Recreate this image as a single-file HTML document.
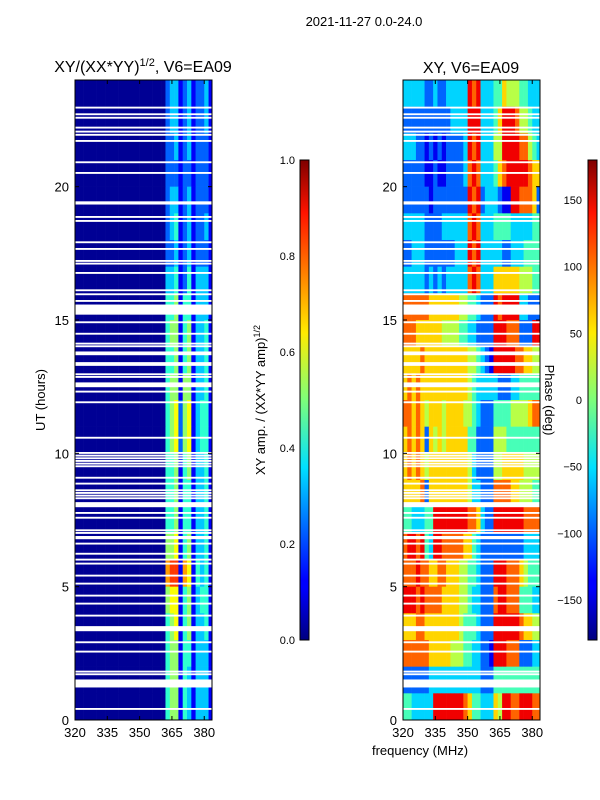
<!DOCTYPE html>
<html><head><meta charset="utf-8"><style>
body{margin:0;background:#fff;}
svg{display:block;font-family:"Liberation Sans",sans-serif;}
</style></head><body>
<svg id="fig" width="600" height="800" viewBox="0 0 600 800">
<defs>
<linearGradient id="jet" x1="0" y1="1" x2="0" y2="0">
<stop offset="0" stop-color="#00007f"/><stop offset="0.11" stop-color="#0000ff"/>
<stop offset="0.125" stop-color="#0000ff"/><stop offset="0.36" stop-color="#00e0ff"/>
<stop offset="0.5" stop-color="#7dff7a"/><stop offset="0.64" stop-color="#ffeb00"/>
<stop offset="0.89" stop-color="#ff1300"/><stop offset="1" stop-color="#7f0000"/>
</linearGradient>
</defs>
<text x="364" y="26" font-size="13" text-anchor="middle">2021-11-27 0.0-24.0</text>
<text x="143" y="72" font-size="16" text-anchor="middle">XY/(XX*YY)<tspan font-size="11" dy="-6">1/2</tspan><tspan dy="6">, V6=EA09</tspan></text>
<text x="471" y="73" font-size="16" text-anchor="middle">XY, V6=EA09</text>
<g id="amp"></g>
<g id="phs"></g>
<g id="axes"></g>
<text transform="translate(45,400) rotate(-90)" font-size="13" text-anchor="middle">UT (hours)</text>
<text x="420" y="755" font-size="13" text-anchor="middle">frequency (MHz)</text>
<rect x="300" y="160" width="9" height="480" fill="url(#jet)" stroke="#000" stroke-width="1"/>
<rect x="588" y="160" width="9" height="480" fill="url(#jet)" stroke="#000" stroke-width="1"/>
<text transform="translate(265,400) rotate(-90)" font-size="13" text-anchor="middle">XY amp. / (XX*YY amp)<tspan font-size="9" dy="-5">1/2</tspan></text>
<text transform="translate(545,400) rotate(90)" font-size="13" text-anchor="middle">Phase (deg)</text>
</svg>
<script>
const NS="http://www.w3.org/2000/svg";
// data
const hours=[23,22,21,20,19,18,17,16,15,14,13,12,11,10,9,8,7,6,5,4,3,2,1,0];
const ampStripes=["23312312231","23312312231","22312312221","22212212221","23312312221","23412312231","22312312221","33412413331","44514413331","45514513341","44514513341","45515513341","45625613441","45625613441","44514513341","44514413341","44514413341","55614513341","78817614341","56614513441","45614513341","45514413331","45514313331","45514313331"];
const phaseRows=[
"33333 22322 33333 878 333 44655544333",
"22222 22222 23333 888 333 46888755433",
"33322 12121 22223 878 333 55888877543",
"22222 11211 22223 787 333 46788888766",
"22222 21222 22222 878 233 32118877762",
"33333 22223 33333 787 333 44443333344",
"22333 22222 22333 878 333 33223334444",
"33333 23232 33333 787 333 66666655544",
"77777 76666 66655 443 222 87888833222",
"77766 66665 55544 332 222 88877722288",
"66667 66666 66666 554 321 88888776655",
"67676 66666 66666 543 333 32223344444",
"77676 56665 66665 543 222 44445555677",
"67676 26565 66666 442 222 55544444444",
"67676 56666 66666 532 222 55666665555",
"66667 26666 66666 533 222 77776655544",
"44333 44888 88888 776 322 88888887777",
"78878 43887 77776 643 222 22222223333",
"77787 76677 66655 443 222 88877765444",
"88878 77776 66655 433 222 78877744433",
"66677 66666 66654 443 222 88888876655",
"77777 76666 65554 433 221 88877722233",
"22222 23333 33333 333 222 44444444444",
"44333 33888 88887 644 333 65887788877"];
const ampBase="000000000000000000000";
const gapStart=[22.93,22.68,22.55,22.18,22.03,21.91,21.68,20.88,20.48,19.33,18.83,18.68,17.88,17.63,17.18,17.08,16.73,16.08,15.93,15.68,15.2,14.88,14.45,14.08,13.98,13.68,13.28,12.93,12.83,12.48,12.28,11.88,10.55,9.98,9.88,9.78,9.68,9.58,9.48,9.05,8.83,8.58,8.48,8.38,8.28,7.98,7.73,7.55,7.08,6.98,6.83,6.78,6.58,6.2,5.98,5.83,5.38,5.08,4.63,4.33,3.88,3.33,2.88,2.53,1.78,1.68,1.22,0.38];
const gapEnd=  [23.0,22.75,22.62,22.25,22.1,21.98,21.75,20.95,20.55,19.45,18.9,18.75,17.95,17.7,17.25,17.15,16.8,16.15,16.0,15.75,15.58,14.95,14.52,14.15,14.05,13.82,13.42,13.0,12.9,12.66,12.35,11.95,10.62,10.05,9.95,9.85,9.75,9.65,9.55,9.12,8.9,8.65,8.55,8.45,8.35,8.17,7.8,7.62,7.15,7.05,6.9,6.85,6.65,6.27,6.05,5.9,5.45,5.15,4.7,4.4,3.95,3.52,2.95,2.6,1.85,1.75,1.52,0.45];
const yTicks=[0,5,10,15,20];
const xTicks=[320,335,350,365,380];
const ampCbTicks=[0.0,0.2,0.4,0.6,0.8,1.0];
const phCbTicks=[-150,-100,-50,0,50,100,150];

function jet(v){v=Math.max(0,Math.min(1,v));
 const f=(x)=>Math.max(0,Math.min(1,1.5-Math.abs(4*v-x)));
 const r=f(3),g=f(2),b=f(1);
 return `rgb(${Math.round(r*255)},${Math.round(g*255)},${Math.round(b*255)})`;}
const fMin=320,fMax=383.6,tMin=0,tMax=24,cw=2;
function mk(tag,attrs,parent){const e=document.createElementNS(NS,tag);for(const k in attrs)e.setAttribute(k,attrs[k]);parent.appendChild(e);return e;}
function panel(x0,x1,g){
 const xs=f=>x0+(f-fMin)/(fMax-fMin)*(x1-x0);
 const ys=t=>720-(t-tMin)/(tMax-tMin)*640;
 return {xs,ys,g,x0,x1};
}
const P1=panel(75,212,document.getElementById('amp'));
const P2=panel(403,540,document.getElementById('phs'));
function drawHeat(P,valFn,name){
 hours.forEach((h,ri)=>{
  for(let c=0;c<32;c++){
   const f=fMin+c*cw; const fe=Math.min(fMax,f+cw);
   const x=P.xs(f), w=P.xs(fe)-x, y=P.ys(h+1), hh=P.ys(h)-y;
   const r=mk('rect',{x:x.toFixed(2),y:y.toFixed(2),width:(w+0.3).toFixed(2),height:(hh+0.3).toFixed(2),fill:jet(valFn(ri,c))},P.g);
   
   
  }
 });
 gapStart.forEach((s,i)=>{
  const y=P.ys(gapEnd[i]);
  const r=mk('rect',{x:P.x0,y:y.toFixed(2),width:P.x1-P.x0,height:(P.ys(s)-y).toFixed(2),fill:'#fff'},P.g);
  
  
 });
}
drawHeat(P1,(ri,c)=>{const s=ampBase+ampStripes[ri];return (parseInt(s[c]||'0')+0.2)/10;},'amp-cell');
drawHeat(P2,(ri,c)=>{const s=phaseRows[ri].replace(/ /g,'');const d=parseInt(s[c]||s[s.length-1]);const deg=-180+d*40;return (deg+180)/360;},'phase-cell');
const ax=document.getElementById('axes');
[P1,P2].forEach((P,pi)=>{
 const fr=mk('rect',{x:P.x0,y:80,width:P.x1-P.x0,height:640,fill:'none',stroke:'#000','stroke-width':1},ax);
 
 
 yTicks.forEach(t=>{const y=P.ys(t);
  mk('line',{x1:P.x0,x2:P.x0+4,y1:y,y2:y,stroke:'#000'},ax);
  mk('line',{x1:P.x1,x2:P.x1-4,y1:y,y2:y,stroke:'#000'},ax);
  const tx=mk('text',{x:P.x0-6,y:y+5,'font-size':13,'text-anchor':'end'},ax);tx.textContent=t;
  
  
 });
 xTicks.forEach(f=>{const x=P.xs(f);
  mk('line',{x1:x,x2:x,y1:720,y2:716,stroke:'#000'},ax);
  mk('line',{x1:x,x2:x,y1:80,y2:84,stroke:'#000'},ax);
  const tx=mk('text',{x:x,y:737,'font-size':13,'text-anchor':'middle'},ax);tx.textContent=f;
  
  
 });
});
ampCbTicks.forEach(v=>{const y=640-v*480;
 mk('line',{x1:300,x2:304,y1:y,y2:y,stroke:'#000'},ax);mk('line',{x1:309,x2:305,y1:y,y2:y,stroke:'#000'},ax);
 const tx=mk('text',{x:295,y:y+4,'font-size':11,'text-anchor':'end'},ax);tx.textContent=v.toFixed(1);
 
 
});
phCbTicks.forEach(v=>{const y=640-(v+180)/360*480;
 mk('line',{x1:588,x2:592,y1:y,y2:y,stroke:'#000'},ax);mk('line',{x1:597,x2:593,y1:y,y2:y,stroke:'#000'},ax);
 const tx=mk('text',{x:582,y:y+4,'font-size':11,'text-anchor':'end'},ax);tx.textContent=v<0?'\u2212'+(-v):v;
 
 
});
</script>
</body></html>
